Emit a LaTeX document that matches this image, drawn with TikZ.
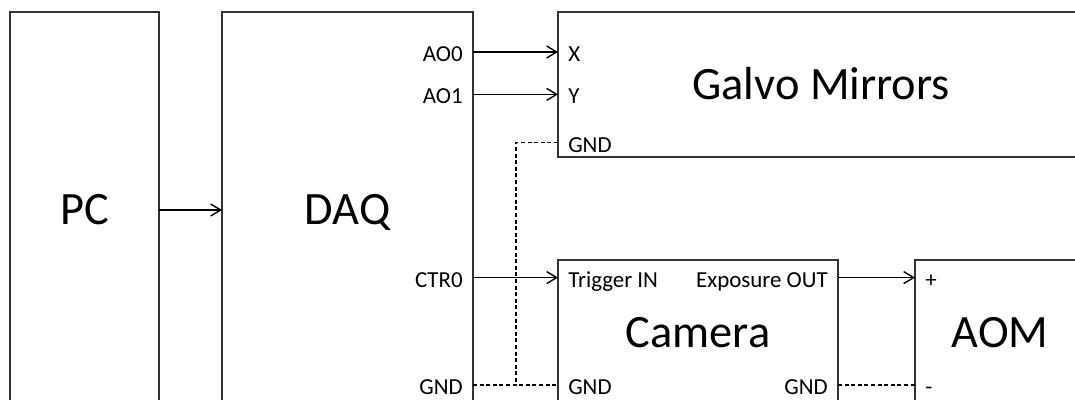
\documentclass[tikz,border=0pt]{standalone}
\usepackage{fontspec}
\setmainfont{Carlito}
\usetikzlibrary{arrows.meta,positioning}

\tikzset{
  box/.style={draw=black!80, line width=1pt, anchor=north west, inner sep=0pt,
    outer sep=0pt, font=\fontsize{33}{36}\selectfont, text height=21.25pt, text depth=0pt},
  portL/.style={anchor=east, inner xsep=0.25cm, inner ysep=0pt,
    font=\fontsize{16.3}{19}\selectfont, text height=13.4pt, text depth=0pt},
  portR/.style={portL, anchor=west},
  sig/.style={-{Straight Barb[length=0.25cm,width=0.3cm]}, line width=1pt},
  gnd/.style={line width=1pt, dash pattern=on 0.1cm off 0.065cm}
}

\begin{document}
\begin{tikzpicture}[x=1cm,y=1cm]
  \clip (0,0) rectangle (26.875,10);
  % blocks
  \node[box, minimum width=3.725cm, minimum height=9.9cm] (pc) at (0.25,9.7) {PC};
  \node[box, minimum width=6.275cm, minimum height=9.9cm] (daq) at (5.55,9.7) {DAQ};
  \node[box, minimum width=13.16cm, minimum height=3.625cm] (galvo) at (13.95,9.7) {Galvo Mirrors};
  \node[box, minimum width=7cm, minimum height=3.65cm] (cam) at (13.95,3.5) {Camera};
  \node[box, minimum width=4.25cm, minimum height=3.65cm] (aom) at (22.875,3.5) {AOM};

  % DAQ outputs
  \node[portL] (ao0) at (11.825,8.7) {AO0};
  \node[portL] (ao1) at (11.825,7.64) {AO1};
  \node[portL] (ctr0) at (11.825,3.06) {CTR0};
  \node[portL] (dgnd) at (11.825,0.375) {GND};

  % inputs and outputs of the devices
  \node[portR] (gx) at (13.95,8.7) {X};
  \node[portR] (gy) at (13.95,7.64) {Y};
  \node[portR] (ggnd) at (13.95,6.43) {GND};
  \node[portR] (trig) at (13.95,3.06) {Trigger IN};
  \node[portR] (cgnd) at (13.95,0.375) {GND};
  \node[portL] (expo) at (20.95,3.06) {Exposure OUT};
  \node[portL] (cgnd2) at (20.95,0.375) {GND};
  \node[portR] (plus) at (22.875,3.06) {+};
  \node[portR] (minus) at (22.875,0.375) {-};
  \coordinate (tap) at (12.9,0.375);

  % signals
  \draw[sig] (pc) -- (daq);
  \draw[sig] (ao0.east) -- (gx.west);
  \draw[sig] (ao1.east) -- (gy.west);
  \draw[sig] (ctr0.east) -- (trig.west);
  \draw[sig] (expo.east) -- (plus.west);

  % ground
  \draw[gnd] (dgnd.east) -- (cgnd.west);
  \draw[gnd] (ggnd.west) -| (tap);
  \draw[gnd] (cgnd2.east) -- (minus.west);
\end{tikzpicture}
\end{document}
